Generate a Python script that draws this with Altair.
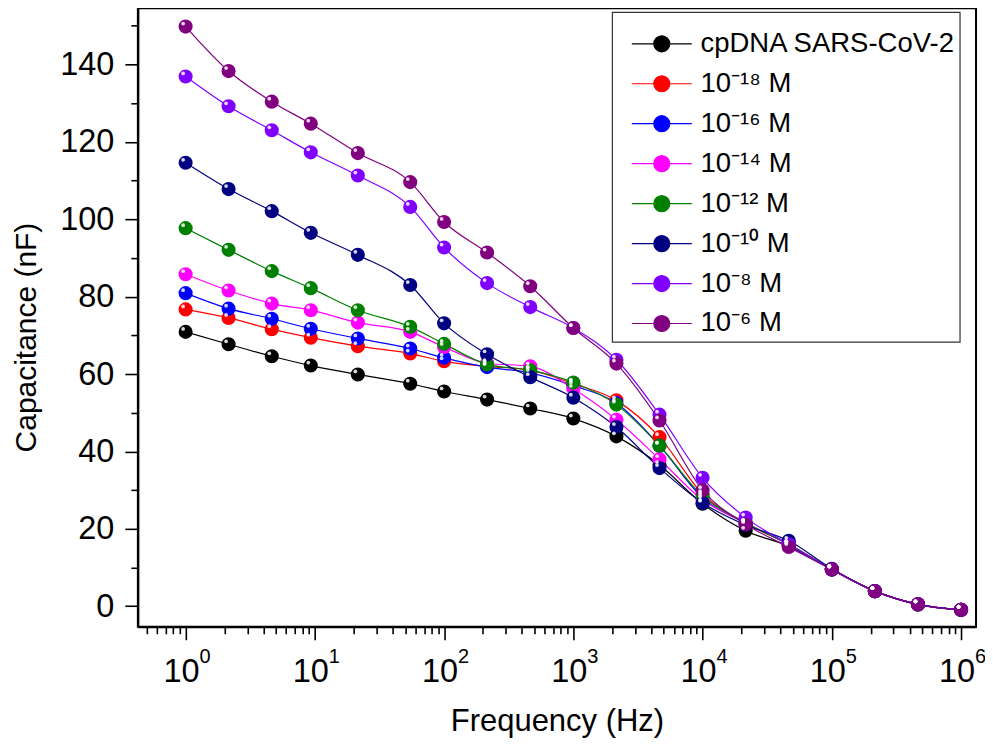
import altair as alt
import pandas as pd

# ---------------- data ----------------
FREQ = [1, 2.15, 4.64, 9.3, 21.5, 54.7, 100, 215, 464, 1000, 2154, 4642,
        10000, 21544, 46416, 100000, 215443, 464159, 1000000]

SERIES = ["cpDNA SARS-CoV-2", "10⁻¹⁸ M", "10⁻¹⁶ M", "10⁻¹⁴ M",
          "10⁻¹² M", "10⁻¹⁰ M", "10⁻⁸ M", "10⁻⁶ M"]
COLORS = ["#000000", "#FF0000", "#0000FF", "#FF00FF",
          "#008000", "#000080", "#8000FF", "#800080"]

cpdna = [70.9, 67.7, 64.6, 62.2, 59.9, 57.5, 55.5, 53.4, 51.1, 48.5, 43.9, 36.5, 26.5, 19.5, 15.5, 9.5, 3.9, 0.4, -1.0]
m18 = [76.7, 74.5, 71.6, 69.4, 67.2, 65.3, 63.3, 62.0, 61.0, 57.5, 53.2, 43.7, 29.0, 21.5, 16.0, 9.5, 3.9, 0.5, -0.9]
m16 = [80.9, 76.9, 74.3, 71.7, 69.2, 66.6, 64.2, 61.8, 60.3, 57.0, 52.5, 41.5, 28.0, 21.5, 16.0, 9.5, 3.9, 0.5, -0.9]
m14 = [85.8, 81.6, 78.2, 76.5, 73.3, 70.9, 67.0, 62.8, 62.0, 56.2, 48.2, 38.0, 27.5, 21.5, 16.0, 9.5, 3.9, 0.5, -0.9]
m12 = [97.7, 92.1, 86.6, 82.2, 76.5, 72.2, 67.8, 62.5, 61.0, 57.8, 52.1, 41.5, 28.5, 21.5, 16.0, 9.5, 3.9, 0.5, -0.9]
m10 = [114.6, 107.8, 102.1, 96.5, 90.8, 83.0, 73.1, 65.1, 59.2, 53.9, 46.3, 35.7, 26.7, 21.0, 16.9, 9.7, 3.9, 0.5, -0.9]
m8 = [136.9, 129.2, 123.0, 117.3, 111.3, 103.2, 92.7, 83.5, 77.3, 71.9, 63.7, 49.5, 33.2, 22.9, 16.0, 9.5, 3.9, 0.5, -0.9]
m6 = [149.8, 138.3, 130.4, 124.7, 117.1, 109.6, 99.3, 91.4, 82.7, 71.9, 62.7, 48.0, 30.0, 21.2, 15.3, 9.5, 3.9, 0.5, -0.9]
VALUES = [cpdna, m18, m16, m14, m12, m10, m8, m6]

X_MAJOR = [1, 10, 100, 1000, 10000, 100000, 1000000]
X_BASE_LABEL = "10"
X_EXPONENTS = ["0", "1", "2", "3", "4", "5", "6"]
X_MINOR = [m * 10 ** d for d in range(-1, 6) for m in range(2, 10)
           if 0.43 <= m * 10 ** d <= 1.3e6]
Y_TICKS = list(range(0, 151, 10))

rows = []
for k, (name, vals) in enumerate(zip(SERIES, VALUES)):
    for f, v in zip(FREQ, vals):
        rows.append({"freq": f, "cap": v, "series": name, "k": k})
df = pd.DataFrame(rows)

FONT = "Liberation Sans, Arial, sans-serif"

x_scale = alt.Scale(type="log", domain=[0.4271, 1.305e6], nice=False)
y_scale = alt.Scale(domain=[-5.3, 154.5], nice=False, zero=False)
color_scale = alt.Scale(domain=SERIES, range=COLORS)

major_test = "indexof(%s, datum.value) >= 0" % str(X_MAJOR)
label_main = " : ".join(
    "datum.value == %d ? '%s'" % (v, X_BASE_LABEL) for v in X_MAJOR) + " : ''"
label_sup = " : ".join(
    "datum.value == %d ? '%s'" % (v, e) for v, e in zip(X_MAJOR, X_EXPONENTS)) + " : ''"

x_axis_main = alt.Axis(
    orient="bottom", values=sorted(X_MAJOR + X_MINOR), labelExpr=label_main,
    tickSize={"condition": {"test": major_test, "value": 13}, "value": 7},
    tickColor="black", tickWidth=1.6, domainColor="black", domainWidth=2,
    labelFont=FONT, labelFontSize=32.5, labelColor="black", labelPadding=16,
    labelOffset=-4.5, labelFlush=False, labelOverlap=False, grid=False,
    title="Frequency (Hz)", titleFont=FONT, titleFontSize=31,
    titleFontWeight="normal", titleColor="black", titleBaseline="middle",
    titleY=95,
)
x_axis_sup = alt.Axis(
    orient="bottom", values=X_MAJOR, labelExpr=label_sup, ticks=False,
    tickSize=0, domain=False, grid=False, labelFont=FONT, labelFontSize=20,
    labelColor="black", labelPadding=20, labelOffset=19, labelFlush=False,
    labelOverlap=False, title=None,
)
y_axis = alt.Axis(
    orient="left",
    values=Y_TICKS, labelExpr="datum.value % 20 == 0 ? datum.label : ''",
    tickSize={"condition": {"test": "datum.value % 20 == 0", "value": 13}, "value": 7},
    tickColor="black", tickWidth=1.6, domainColor="black", domainWidth=2,
    labelFont=FONT, labelFontSize=32.5, labelColor="black", labelPadding=11,
    grid=False, labelFlush=False, labelOverlap=False,
    title="Capacitance (nF)", titleFont=FONT, titleFontSize=30,
    titleFontWeight="normal", titleColor="black", titleBaseline="middle",
    titleX=-111, titleY=329,
)

SYMBOL = "M-3,0L-0.8,0M0.8,0L3,0M-0.8,0A0.8,0.8,0,1,1,0.8,0A0.8,0.8,0,1,1,-0.8,0Z"
legend = alt.Legend(
    title=" ", titleFontSize=12, titlePadding=2,
    orient="none", legendX=474.7, legendY=3.7,
    symbolType=SYMBOL, symbolSize=400, symbolStrokeWidth=1.2,
    symbolFillColor=alt.ExprRef("scale('color', datum.value)"),
    symbolOpacity=1,
    symbolOffset=32, labelOffset=25,
    labelFont=FONT, labelFontSize=27.5, labelColor="black", labelLimit=500,
    rowPadding=11.0, padding=4, strokeColor="#333333",
)

base = alt.Chart(df)

lines = base.mark_line(interpolate="monotone", strokeWidth=1.2).encode(
    x=alt.X("freq:Q", scale=x_scale, axis=x_axis_main),
    y=alt.Y("cap:Q", scale=y_scale, axis=y_axis),
    color=alt.Color("series:N", scale=color_scale, sort=SERIES, legend=legend),
    order=alt.Order("freq:Q"),
)
balls = base.mark_circle(size=200, opacity=1).encode(
    x=alt.X("freq:Q", scale=x_scale, axis=None),
    y=alt.Y("cap:Q", scale=y_scale, axis=y_axis),
    color=alt.Color("series:N", scale=color_scale, sort=SERIES, legend=None),
    order=alt.Order("k:Q"),
)
gloss = base.mark_circle(size=14, color="white", opacity=0.85,
                         xOffset=-2.5, yOffset=-3).encode(
    x=alt.X("freq:Q", scale=x_scale, axis=x_axis_sup),
    y=alt.Y("cap:Q", scale=y_scale, axis=y_axis),
    order=alt.Order("k:Q"),
)

chart = alt.layer(lines, balls, gloss).resolve_axis(
    x="independent", y="shared"
).resolve_scale(x="shared", y="shared").properties(
    width=839, height=619,
    autosize=alt.AutoSizeParams(type="none"),
    padding={"left": 130, "top": 0, "right": 9, "bottom": 115},
).configure_view(
    stroke="black", strokeWidth=2
).configure_legend(
    strokeWidth=1.2
)

chart.save("out.html", embed_options={"renderer": "svg", "actions": False})
